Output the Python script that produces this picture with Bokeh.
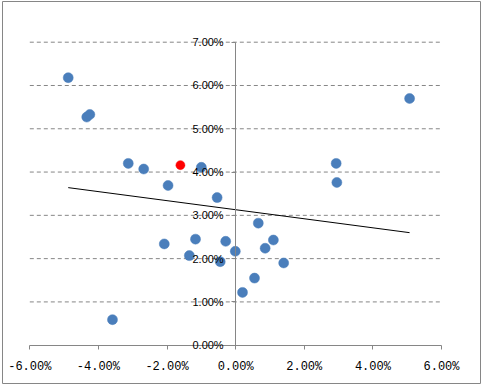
from bokeh.plotting import figure
from bokeh.models import Range1d, FixedTicker, LinearAxis
from bokeh.embed import file_html
from bokeh.resources import INLINE

# data in percent units
blue_x = [-4.88, -4.34, -4.25, -3.13, -2.68, -1.00, -1.97, -0.54, 2.93, 2.95, 5.07,
          -2.08, -1.17, -1.35, -0.29, -0.01, -0.45, 0.20, -3.59, 0.66, 1.10, 0.86, 1.40, 0.55]
blue_y = [6.18, 5.27, 5.33, 4.20, 4.07, 4.11, 3.69, 3.41, 4.20, 3.76, 5.70,
          2.34, 2.45, 2.07, 2.40, 2.17, 1.93, 1.22, 0.59, 2.82, 2.43, 2.24, 1.90, 1.55]
red_x = [-1.61]
red_y = [4.16]
trend_x = [-4.88, 5.07]
trend_y = [3.64, 2.60]

x_ticks = [-6, -4, -2, 0, 2, 4, 6]
x_tick_labels = ["-6.00%", "-4.00%", "-2.00%", "0.00%", "2.00%", "4.00%", "6.00%"]
y_ticks = [0, 1, 2, 3, 4, 5, 6, 7]
y_tick_labels = ["0.00%", "1.00%", "2.00%", "3.00%", "4.00%", "5.00%", "6.00%", "7.00%"]
grid_ticks = [1, 2, 3, 4, 5, 6, 7]

# layout (pixels inside the figure)
W, H = 479, 383
PX_XMIN, PX_XMAX = 27.3, 439.0   # where the x axis ends
PX_YMAX, PX_YMIN = 40.7, 343.7   # where the y axis ends
xmin, xmax = x_ticks[0], x_ticks[-1]
ymin, ymax = y_ticks[0], y_ticks[-1]
sx = (PX_XMAX - PX_XMIN) / (xmax - xmin)
sy = (PX_YMIN - PX_YMAX) / (ymax - ymin)
x_range = Range1d(xmin - PX_XMIN / sx, xmax + (W - PX_XMAX) / sx)
y_range = Range1d(ymin - (H - PX_YMIN) / sy, ymax + PX_YMAX / sy)

p = figure(width=W, height=H, x_range=x_range, y_range=y_range,
           output_backend="svg", toolbar_location=None,
           x_axis_location=None, y_axis_location=None,
           min_border_left=0, min_border_right=0, min_border_top=0, min_border_bottom=0)
p.margin = (1, 0, 0, 2)
p.outline_line_color = "#868686"
p.background_fill_color = "white"
p.border_fill_color = "white"
for g in list(p.xgrid) + list(p.ygrid):
    g.visible = False

axis_color = "#868686"
# dashed horizontal gridlines spanning the x axis extent
p.segment(x0=[xmin] * len(grid_ticks), y0=grid_ticks, x1=[xmax] * len(grid_ticks), y1=grid_ticks,
          line_color=axis_color, line_dash="4 3", line_width=1)

xaxis = LinearAxis(ticker=FixedTicker(ticks=x_ticks), fixed_location=0, bounds=(xmin, xmax),
                   major_label_overrides={t: l for t, l in zip(x_ticks, x_tick_labels)})
xaxis.axis_line_color = axis_color
xaxis.major_tick_line_color = axis_color
xaxis.major_tick_out = 4
xaxis.major_tick_in = 0
xaxis.minor_tick_line_color = None
xaxis.major_label_standoff = 11
xaxis.major_label_text_font = "Liberation Mono"
xaxis.major_label_text_font_size = "12px"
xaxis.major_label_text_color = "black"
p.add_layout(xaxis, "below")

yaxis = LinearAxis(ticker=FixedTicker(ticks=y_ticks), fixed_location=0, bounds=(ymin, ymax),
                   major_label_overrides={t: l for t, l in zip(y_ticks, y_tick_labels)})
yaxis.axis_line_color = axis_color
yaxis.major_tick_line_color = axis_color
yaxis.major_tick_out = 4
yaxis.major_tick_in = 0
yaxis.minor_tick_line_color = None
yaxis.major_label_standoff = 8
yaxis.major_label_text_font = "Liberation Sans"
yaxis.major_label_text_font_size = "11px"
yaxis.major_label_text_color = "black"
p.add_layout(yaxis, "left")

p.line(trend_x, trend_y, line_color="black", line_width=1)
p.scatter(blue_x, blue_y, size=10, fill_color="#4A7EBB", line_color="#4A7EBB", line_width=0.5)
p.scatter(red_x, red_y, size=9, fill_color="#FF0000", line_color="#FF0000", line_width=0.5)

open("out.html", "w").write(file_html(p, INLINE))
